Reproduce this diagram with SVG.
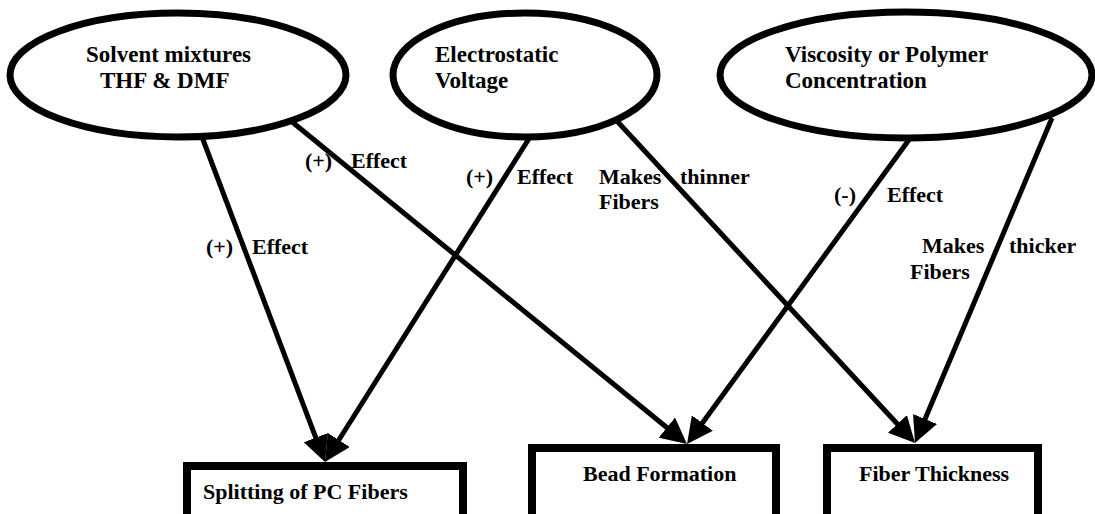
<svg xmlns="http://www.w3.org/2000/svg" width="1095" height="514" viewBox="0 0 1095 514">
<style>
.ell{fill:#fff;stroke:#000;stroke-width:7}
.box{fill:#fff;stroke:#000;stroke-width:8}
text{font-family:'Liberation Serif','DejaVu Serif',serif;font-weight:700;font-size:22px;fill:#000}
.nt{font-size:23px}
.c{fill:none;stroke:#000;stroke-width:5;marker-end:url(#ah)}
</style>
<defs>
<marker id="ah" viewBox="0 0 26 26" refX="13" refY="13" markerWidth="26" markerHeight="26" markerUnits="userSpaceOnUse" orient="auto">
<path d="M0,0 L26,13 L0,26 z" fill="#000"/>
</marker>
</defs>
<rect width="1095" height="514" fill="#fff"/>
<g id="n-solvent">
<ellipse class="ell" cx="178" cy="75" rx="168" ry="62"/>
<text class="nt" x="86" y="62" font-family="Liberation Serif, serif">Solvent mixtures</text>
<text class="nt" x="100" y="88" font-family="Liberation Serif, serif">THF &amp; DMF</text>
</g>
<g id="n-voltage">
<ellipse class="ell" cx="525" cy="75" rx="132" ry="62"/>
<text class="nt" x="435" y="62" font-family="Liberation Serif, serif">Electrostatic</text>
<text class="nt" x="435" y="88" font-family="Liberation Serif, serif">Voltage</text>
</g>
<g id="n-viscosity">
<ellipse class="ell" cx="906" cy="75" rx="186" ry="63"/>
<text class="nt" x="785" y="62" font-family="Liberation Serif, serif">Viscosity or Polymer</text>
<text class="nt" x="785" y="88" font-family="Liberation Serif, serif">Concentration</text>
</g>
<g id="n-splitting">
<rect class="box" x="187" y="466" width="276" height="70"/>
<text x="203" y="499" font-family="Liberation Serif, serif">Splitting of PC Fibers</text>
</g>
<g id="n-bead">
<rect class="box" x="532" y="448" width="244" height="90"/>
<text x="583" y="481" font-family="Liberation Serif, serif">Bead Formation</text>
</g>
<g id="n-thickness">
<rect class="box" x="827" y="448" width="211" height="90"/>
<text x="859" y="481" font-family="Liberation Serif, serif">Fiber Thickness</text>
</g>
<g id="connectors">
<line class="c" x1="202" y1="137" x2="320.4" y2="449.8"/>
<line class="c" x1="530" y1="137" x2="331.9" y2="451"/>
<line class="c" x1="291" y1="121" x2="676.9" y2="435.8"/>
<line class="c" x1="911" y1="137" x2="694.7" y2="433.5"/>
<line class="c" x1="616" y1="120" x2="906.2" y2="433.5"/>
<line class="c" x1="1052" y1="118" x2="920" y2="431"/>
</g>
<g id="labels" font-family="Liberation Serif, serif">
<text x="206" y="254">(+)</text>
<text x="252" y="254">Effect</text>
<text x="305" y="168">(+)</text>
<text x="351" y="168">Effect</text>
<text x="466" y="184">(+)</text>
<text x="517" y="184">Effect</text>
<text x="599" y="184">Makes</text>
<text x="680" y="184">thinner</text>
<text x="599" y="209">Fibers</text>
<text x="834" y="202">(-)</text>
<text x="887" y="202">Effect</text>
<text x="922" y="253">Makes</text>
<text x="1009" y="253">thicker</text>
<text x="910" y="279">Fibers</text>
</g>
</svg>
